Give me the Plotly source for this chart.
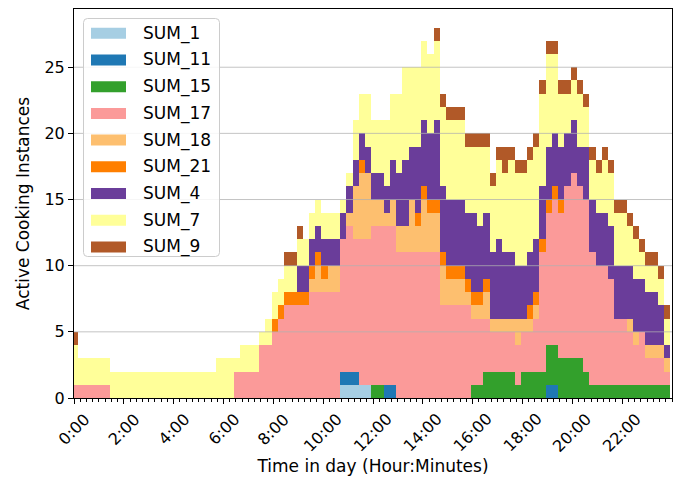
import plotly.graph_objects as go

# ---------------- data (15-minute bins, 0:00 .. 23:45) ----------------
hours = [i * 0.25 for i in range(96)]
tick_hours = list(range(0, 24, 2))
tick_labels = ["0:00", "2:00", "4:00", "6:00", "8:00", "10:00",
               "12:00", "14:00", "16:00", "18:00", "20:00", "22:00"]
y_ticks = [0, 5, 10, 15, 20, 25]

series_names = ["SUM_1", "SUM_11", "SUM_15", "SUM_17", "SUM_18",
                "SUM_21", "SUM_4", "SUM_7", "SUM_9"]
series_colors = ["#a6cee3", "#1f78b4", "#33a02c", "#fb9a99", "#fdbf6f",
                 "#ff7f00", "#6a3d9a", "#ffff99", "#b15928"]

sum_1 = [0] * 43 + [1, 1, 1, 1, 1] + [0] * 48

sum_11 = ([0] * 43 + [1, 1, 1, 0, 0]
          + [0, 0, 1, 1, 0, 0, 0, 0]
          + [0] * 8 + [0] * 8
          + [0, 0, 0, 0, 1, 1, 0, 0]
          + [0] * 16)

sum_15 = ([0] * 48
          + [1, 1, 0, 0, 0, 0, 0, 0]
          + [0, 0, 0, 0, 0, 0, 0, 0]
          + [1, 1, 2, 2, 2, 2, 2, 1]
          + [2, 2, 2, 2, 3, 3, 3, 3]
          + [3, 3, 2, 1, 1, 1, 1, 1]
          + [1, 1, 1, 1, 1, 1, 1, 1])

sum_17 = ([1, 1, 1, 1, 1, 1, 0, 0]
          + [0] * 8 + [0] * 8
          + [0, 0, 2, 2, 2, 2, 4, 4]
          + [5, 6, 7, 7, 7, 7, 8, 8]
          + [8, 8, 8, 10, 11, 10, 11, 11]
          + [12, 12, 12, 12, 11, 11, 11, 11]
          + [11, 11, 11, 7, 7, 7, 7, 7]
          + [5, 5, 4, 3, 3, 3, 3, 3]
          + [3, 3, 4, 9, 10, 11, 11, 13]
          + [14, 13, 13, 10, 9, 9, 8, 5]
          + [5, 4, 3, 4, 2, 2, 2, 1])

sum_18 = ([0] * 32
          + [0, 0, 0, 0, 0, 0, 1, 2]
          + [1, 2, 2, 0, 1, 4, 5, 5]
          + [2, 2, 1, 2, 2, 2, 4, 2]
          + [4, 3, 3, 3, 2, 2, 2, 1]
          + [1, 1, 2, 1, 1, 1, 1, 2]
          + [1, 1, 1, 0, 0, 0, 0, 0]
          + [0] * 8
          + [0, 1, 1, 0, 1, 1, 1, 1])

sum_21 = ([0] * 32
          + [1, 1, 1, 1, 1, 1, 1, 1]
          + [1, 0, 0, 0, 0, 0, 1, 0]
          + [0, 0, 0, 0, 0, 0, 0, 1]
          + [1, 1, 1, 1, 1, 1, 1, 1]
          + [1, 1, 1, 0, 0, 0, 0, 0]
          + [0, 1, 1, 1, 1, 1, 1, 0]
          + [0] * 16)

sum_4 = ([0] * 32
         + [0, 0, 0, 0, 2, 2, 2, 2]
         + [2, 2, 2, 2, 2, 2, 2, 2]
         + [2, 2, 2, 3, 4, 5, 4, 5]
         + [5, 5, 6, 5, 5, 5, 5, 5]
         + [6, 5, 5, 5, 6, 5, 5, 4]
         + [4, 4, 4, 4, 4, 4, 4, 4]
         + [4, 3, 4, 4, 4, 4, 4, 4]
         + [4, 4, 4, 4, 4, 4, 3, 1])

sum_7 = ([3, 2, 2, 2, 2, 2, 2, 2]
         + [2, 2, 2, 2, 2, 2, 2, 2]
         + [2, 2, 2, 2, 2, 2, 2, 3]
         + [3, 3, 1, 2, 2, 2, 1, 2]
         + [2, 2, 2, 2, 2, 2, 2, 2]
         + [2, 2, 2, 1, 1, 3, 3, 4]
         + [4, 4, 5, 5, 6, 7, 6, 6]
         + [6, 6, 6, 6, 6, 6, 6, 5]
         + [5, 6, 5, 5, 6, 6, 7, 7]
         + [7, 7, 7, 7, 7, 6, 4, 3]
         + [3, 4, 3, 3, 3, 4, 4, 4]
         + [4, 3, 3, 2, 2, 2, 2, 2])

sum_9 = ([1, 0, 0, 0, 0, 0, 0, 0]
         + [0] * 24
         + [0, 0, 1, 1, 1, 0, 0, 0]
         + [0] * 16
         + [0, 0, 1, 1, 1, 1, 1, 1]
         + [1, 1, 1, 1, 1, 2, 1, 1]
         + [1] * 8 + [1] * 8 + [1] * 8)

series_values = [sum_1, sum_11, sum_15, sum_17, sum_18,
                 sum_21, sum_4, sum_7, sum_9]

# ---------------- layout geometry (pixels) ----------------
W, H = 680, 484
PL, PR, PT, PB = 74, 672, 9, 398
FONT = "DejaVu Sans"
FS = 17       # legend / titles
TFS = 16      # tick labels


def xp(px):
    return (px - PL) / (PR - PL)


def yp(py):
    return (PB - py) / (PB - PT)


fig = go.Figure()
for name, vals, col in zip(series_names, series_values, series_colors):
    fig.add_trace(go.Bar(
        x=hours, y=vals, name=name,
        width=0.25, offset=-0.07,
        marker=dict(color=col, line=dict(width=0)),
        showlegend=False,
    ))

shapes = []
# horizontal grid lines drawn over the bars
for g in y_ticks[1:]:
    shapes.append(dict(type="line", xref="paper", yref="y", x0=0, x1=1,
                       y0=g, y1=g, layer="above",
                       line=dict(color="rgba(176,176,176,0.75)", width=1)))

# legend box (rounded)
bx0, bx1, by0, by1 = xp(83.5), xp(219.5), yp(256.5), yp(18.5)
rx, ry = 4 / (PR - PL), 4 / (PB - PT)
box_path = (f"M{bx0+rx},{by0} L{bx1-rx},{by0} Q{bx1},{by0} {bx1},{by0+ry} "
            f"L{bx1},{by1-ry} Q{bx1},{by1} {bx1-rx},{by1} "
            f"L{bx0+rx},{by1} Q{bx0},{by1} {bx0},{by1-ry} "
            f"L{bx0},{by0+ry} Q{bx0},{by0} {bx0+rx},{by0} Z")
shapes.append(dict(type="path", xref="paper", yref="paper", path=box_path,
                   layer="above", fillcolor="rgba(255,255,255,0.85)",
                   line=dict(color="#cccccc", width=1)))

annotations = []
for i, (name, col) in enumerate(zip(series_names, series_colors)):
    cy = 33.3 + 26.7 * i
    shapes.append(dict(type="rect", xref="paper", yref="paper",
                       x0=xp(91), x1=xp(126), y0=yp(cy + 5.5), y1=yp(cy - 5.5),
                       layer="above", fillcolor=col, line=dict(width=0)))
    annotations.append(dict(xref="paper", yref="paper", x=xp(141), y=yp(cy),
                            text=name, showarrow=False, xanchor="left",
                            yanchor="middle",
                            font=dict(family=FONT, size=FS, color="black")))

# x tick labels: rotated 45 degrees, centred under each tick
for hv, lab in zip(tick_hours, tick_labels):
    annotations.append(dict(xref="x", yref="paper", x=hv, y=0, yshift=-9,
                            text=lab, showarrow=False, textangle=-45,
                            xanchor="center", yanchor="top",
                            font=dict(family=FONT, size=TFS, color="black")))

fig.update_layout(
    width=W, height=H,
    margin=dict(l=PL, r=W - PR, t=PT, b=H - PB, pad=0),
    barmode="stack", bargap=0,
    plot_bgcolor="white", paper_bgcolor="white",
    font=dict(family=FONT, size=FS, color="black"),
    shapes=shapes, annotations=annotations,
    showlegend=False,
)
fig.update_xaxes(
    range=[0, 24], tickmode="array", tickvals=tick_hours, ticktext=tick_labels,
    showticklabels=False,
    ticks="outside", ticklen=5, tickwidth=1, tickcolor="black",
    minor=dict(dtick=0.25, tick0=0, ticks="outside", ticklen=3,
               tickcolor="black", showgrid=False),
    showline=True, mirror=True, linecolor="black", linewidth=1,
    showgrid=False, zeroline=False,
    title=dict(text="Time in day (Hour:Minutes)", font=dict(size=FS), standoff=57),
)
fig.update_yaxes(
    range=[0, 29.4], tickmode="array", tickvals=y_ticks,
    ticks="outside", ticklen=5, tickwidth=1, tickcolor="black",
    showline=True, mirror=True, linecolor="black", linewidth=1,
    showgrid=False, zeroline=False,
    title=dict(text="Active Cooking Instances", font=dict(size=FS), standoff=10),
    tickfont=dict(size=TFS),
)

fig.write_html("out.html", config={"displayModeBar": False},
               post_script="document.body.style.margin='0px';")
